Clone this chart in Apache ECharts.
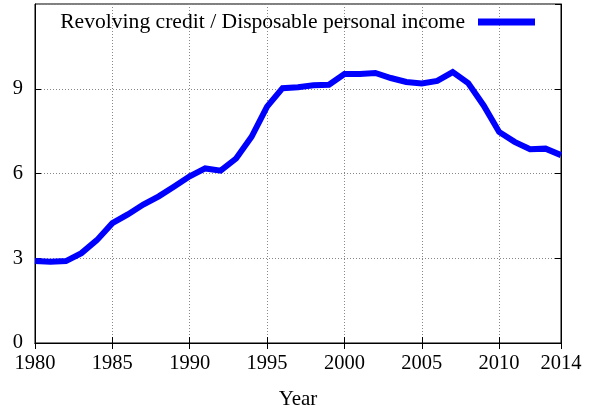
<!DOCTYPE html>
<html>
<head>
<meta charset="utf-8">
<script src="https://cdn.jsdelivr.net/npm/echarts@6/dist/echarts.min.js"></script>
<style>html,body{margin:0;padding:0;background:#fff}#c{width:593px;height:415px}</style>
</head>
<body>
<div id="c"></div>
<script>
const years = [1980,1981,1982,1983,1984,1985,1986,1987,1988,1989,1990,1991,1992,1993,1994,1995,1996,1997,1998,1999,2000,2001,2002,2003,2004,2005,2006,2007,2008,2009,2010,2011,2012,2013,2014];
const ratio = [2.90,2.88,2.90,3.18,3.64,4.24,4.55,4.90,5.19,5.54,5.90,6.18,6.10,6.53,7.30,8.37,9.02,9.05,9.12,9.14,9.52,9.52,9.56,9.38,9.24,9.19,9.28,9.59,9.20,8.41,7.47,7.12,6.86,6.88,6.65];
const seriesName = 'Revolving credit / Disposable personal income';
const xAxisName = 'Year';

const font = 'Liberation Serif';
const chart = echarts.init(document.getElementById('c'), null, {renderer: 'canvas'});
const data = years.map((y, i) => [y, ratio[i]]);
const dotted = {show: true, lineStyle: {color: '#888', type: [1, 2], width: 1}};
chart.setOption({
  animation: false,
  grid: {left: 35, right: 32, top: 4, bottom: 70, show: true, borderColor: '#000', borderWidth: 1},
  legend: {
    data: [{name: seriesName, icon: 'rect'}],
    right: 53, top: 6, align: 'right', itemWidth: 57, itemHeight: 7, itemGap: 12,
    textStyle: {fontFamily: font, fontSize: 21.6, color: '#000', padding: [0, 8, 0, 0]}
  },
  xAxis: [{
    type: 'value', min: 1980, max: 2014, interval: 5,
    name: xAxisName, nameLocation: 'middle', nameGap: 46,
    nameTextStyle: {fontFamily: font, fontSize: 21, color: '#000'},
    axisLine: {show: true, lineStyle: {color: '#000', width: 1}},
    axisTick: {show: true, inside: true, length: 6, lineStyle: {color: '#000'}},
    axisLabel: {fontFamily: font, fontSize: 20.5, color: '#000', margin: 10, showMaxLabel: true, formatter: v => String(v)},
    splitLine: dotted
  }, {
    type: 'value', min: 1980, max: 2014, interval: 5, position: 'top',
    axisLine: {show: true, lineStyle: {color: '#000'}},
    axisTick: {show: true, inside: true, length: 6, lineStyle: {color: '#000'}},
    axisLabel: {show: false}, splitLine: {show: false}
  }],
  yAxis: [{
    type: 'value', min: 0, max: 12, interval: 3,
    axisLine: {show: true, lineStyle: {color: '#000', width: 1}},
    axisTick: {show: true, inside: true, length: 6, lineStyle: {color: '#000'}},
    axisLabel: {fontFamily: font, fontSize: 20.5, color: '#000', margin: 12, showMaxLabel: false},
    splitLine: dotted
  }, {
    type: 'value', min: 0, max: 12, interval: 3, position: 'right',
    axisLine: {show: true, lineStyle: {color: '#000'}},
    axisTick: {show: true, inside: true, length: 6, lineStyle: {color: '#000'}},
    axisLabel: {show: false}, splitLine: {show: false}
  }],
  series: [{
    name: seriesName, type: 'line', data: data, xAxisIndex: 0, yAxisIndex: 0,
    showSymbol: false, symbol: 'none',
    lineStyle: {color: '#0000ff', width: 6, join: 'miter'},
    itemStyle: {color: '#0000ff'}
  }]
});
</script>
</body>
</html>
